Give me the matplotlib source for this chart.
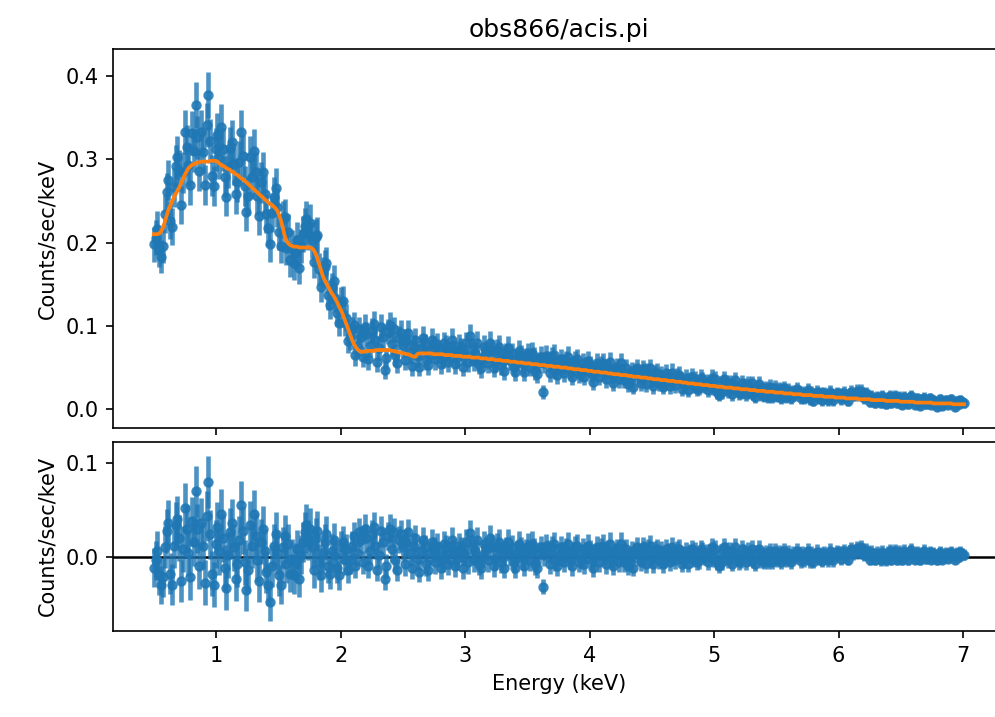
import numpy as np
import matplotlib.pyplot as plt

# ACIS channel grid: 14.6 eV per channel, channels 34-480 (~0.5-7 keV)
channels = np.arange(34, 481)
bin_width = 0.0146
exposure = 37700.0
energy = channels * bin_width

# fitted model (counts/sec/keV), one value per channel
model = [
    0.210, 0.210, 0.210, 0.211, 0.213, 0.218, 0.224,
    0.232, 0.239, 0.244, 0.249, 0.254, 0.258, 0.262, 0.266, 0.271, 0.276,
    0.281, 0.285, 0.289, 0.291, 0.293, 0.294, 0.295, 0.296, 0.296, 0.297,
    0.297, 0.297, 0.297, 0.297, 0.298, 0.298, 0.298, 0.298, 0.297, 0.295,
    0.293, 0.292, 0.291, 0.289, 0.288, 0.287, 0.285, 0.284, 0.282, 0.281,
    0.279, 0.277, 0.276, 0.274, 0.272, 0.270, 0.268, 0.266, 0.264, 0.262,
    0.260, 0.258, 0.256, 0.254, 0.252, 0.250, 0.248, 0.246, 0.245, 0.243,
    0.241, 0.238, 0.233, 0.226, 0.218, 0.208, 0.202, 0.199, 0.197, 0.196,
    0.195, 0.195, 0.195, 0.194, 0.194, 0.194, 0.194, 0.194, 0.194, 0.194,
    0.193, 0.191, 0.187, 0.181, 0.174, 0.167, 0.160, 0.155, 0.151, 0.147,
    0.143, 0.139, 0.136, 0.132, 0.128, 0.123, 0.119, 0.114, 0.108, 0.102,
    0.096, 0.090, 0.084, 0.079, 0.075, 0.072, 0.070, 0.069, 0.069, 0.069,
    0.070, 0.070, 0.070, 0.070, 0.070, 0.071, 0.071, 0.071, 0.071, 0.071,
    0.071, 0.071, 0.071, 0.071, 0.070, 0.070, 0.069, 0.069, 0.068, 0.068,
    0.067, 0.067, 0.066, 0.066, 0.065, 0.064, 0.063, 0.063, 0.066, 0.067,
    0.067, 0.067, 0.067, 0.067, 0.067, 0.067, 0.067, 0.066, 0.066, 0.066,
    0.066, 0.066, 0.066, 0.065, 0.065, 0.065, 0.065, 0.065, 0.064, 0.064,
    0.064, 0.064, 0.064, 0.063, 0.063, 0.063, 0.063, 0.063, 0.062, 0.062,
    0.062, 0.062, 0.062, 0.061, 0.061, 0.061, 0.061, 0.060, 0.060, 0.060,
    0.060, 0.059, 0.059, 0.059, 0.059, 0.058, 0.058, 0.058, 0.058, 0.057,
    0.057, 0.057, 0.057, 0.056, 0.056, 0.056, 0.056, 0.055, 0.055, 0.055,
    0.055, 0.054, 0.054, 0.054, 0.054, 0.053, 0.053, 0.053, 0.053, 0.052,
    0.052, 0.052, 0.052, 0.051, 0.051, 0.051, 0.051, 0.050, 0.050, 0.050,
    0.050, 0.049, 0.049, 0.049, 0.048, 0.048, 0.048, 0.048, 0.047, 0.047,
    0.047, 0.047, 0.046, 0.046, 0.046, 0.045, 0.045, 0.045, 0.045, 0.044,
    0.044, 0.044, 0.044, 0.043, 0.043, 0.043, 0.042, 0.042, 0.042, 0.042,
    0.041, 0.041, 0.041, 0.041, 0.040, 0.040, 0.040, 0.039, 0.039, 0.039,
    0.039, 0.038, 0.038, 0.038, 0.038, 0.037, 0.037, 0.037, 0.036, 0.036,
    0.036, 0.036, 0.035, 0.035, 0.035, 0.035, 0.034, 0.034, 0.034, 0.034,
    0.033, 0.033, 0.033, 0.033, 0.032, 0.032, 0.032, 0.031, 0.031, 0.031,
    0.031, 0.030, 0.030, 0.030, 0.030, 0.029, 0.029, 0.029, 0.029, 0.028,
    0.028, 0.028, 0.028, 0.027, 0.027, 0.027, 0.027, 0.026, 0.026, 0.026,
    0.026, 0.026, 0.025, 0.025, 0.025, 0.025, 0.024, 0.024, 0.024, 0.024,
    0.024, 0.023, 0.023, 0.023, 0.023, 0.022, 0.022, 0.022, 0.022, 0.022,
    0.021, 0.021, 0.021, 0.021, 0.021, 0.020, 0.020, 0.020, 0.020, 0.020,
    0.019, 0.019, 0.019, 0.019, 0.019, 0.018, 0.018, 0.018, 0.018, 0.018,
    0.017, 0.017, 0.017, 0.017, 0.017, 0.017, 0.016, 0.016, 0.016, 0.016,
    0.016, 0.016, 0.015, 0.015, 0.015, 0.015, 0.015, 0.015, 0.014, 0.014,
    0.014, 0.014, 0.014, 0.014, 0.013, 0.013, 0.013, 0.013, 0.013, 0.013,
    0.013, 0.012, 0.012, 0.012, 0.012, 0.012, 0.012, 0.012, 0.011, 0.011,
    0.011, 0.011, 0.011, 0.011, 0.011, 0.011, 0.010, 0.010, 0.010, 0.010,
    0.010, 0.010, 0.010, 0.010, 0.009, 0.009, 0.009, 0.009, 0.009, 0.009,
    0.009, 0.009, 0.008, 0.008, 0.008, 0.008, 0.008, 0.008, 0.008, 0.008,
    0.008, 0.008, 0.007, 0.007, 0.007, 0.007, 0.007, 0.007, 0.007, 0.007,
    0.007, 0.007, 0.007, 0.006, 0.006, 0.006, 0.006, 0.006, 0.006, 0.006,
]

# data minus model
resid = [
    -0.012, -0.004, 0.006, -0.020, -0.030, -0.022, 0.010,
    0.028, 0.036, -0.018, -0.030, 0.012, 0.034, 0.040, 0.020, -0.026, 0.008,
    0.052, 0.030, 0.004, -0.022, 0.038, 0.016, 0.070, 0.030, -0.010, 0.036,
    0.012, -0.028, 0.044, 0.080, 0.024, -0.018, -0.030, 0.014, 0.032, 0.006,
    0.046, 0.020, -0.012, -0.034, 0.002, 0.026, 0.036, 0.010, -0.024, -0.008,
    0.018, 0.055, 0.028, -0.006, -0.036, -0.014, 0.034, 0.012, 0.046, 0.022,
    -0.004, -0.026, 0.016, 0.030, 0.006, -0.016, -0.030, -0.048, -0.010, 0.012,
    0.024, 0.004, -0.020, -0.030, 0.010, 0.022, -0.008, 0.014, -0.018, -0.002,
    -0.020, -0.006, 0.008, -0.024, 0.002, 0.016, 0.026, 0.034, 0.018, 0.030,
    0.010, -0.014, 0.020, 0.028, -0.006, -0.020, 0.004, 0.016, 0.024, -0.010,
    -0.018, 0.006, 0.018, 0.002, -0.012, -0.020, 0.010, 0.016, -0.004, 0.008,
    -0.014, -0.004, 0.012, 0.022, -0.010, 0.004, 0.026, 0.018, -0.006, 0.030,
    0.020, -0.010, 0.006, 0.024, 0.032, 0.012, -0.014, 0.002, 0.028, 0.016,
    -0.024, -0.010, 0.022, 0.030, 0.008, 0.026, -0.004, -0.014, 0.018, 0.024,
    0.010, -0.008, 0.016, 0.026, 0.004, -0.012, 0.012, 0.020, -0.002, -0.016,
    0.006, 0.018, 0.010, -0.008, -0.014, 0.004, 0.016, 0.008, -0.006, 0.012,
    0.002, -0.012, -0.004, 0.014, 0.010, -0.008, 0.004, 0.018, 0.006, -0.010,
    -0.002, 0.012, 0.008, -0.012, 0.004, 0.016, -0.006, 0.025, 0.010, -0.004,
    0.006, 0.018, -0.008, -0.012, 0.002, 0.014, 0.008, -0.004, 0.020, 0.010,
    -0.010, -0.002, 0.012, 0.016, -0.006, 0.004, -0.012, 0.008, 0.016, 0.002,
    0.010, -0.006, -0.012, 0.004, 0.014, 0.008, -0.002, -0.010, 0.006, 0.012,
    -0.004, 0.014, 0.008, -0.008, -0.012, 0.004, 0.010, -0.032, 0.002, 0.012,
    0.006, -0.008, 0.010, 0.014, -0.004, -0.010, 0.002, 0.010, 0.004, -0.006,
    0.008, 0.014, -0.002, -0.010, 0.004, 0.010, 0.012, -0.006, -0.002, 0.008,
    -0.008, 0.004, 0.012, 0.006, -0.004, -0.012, 0.002, 0.010, -0.006, 0.008,
    0.012, 0.002, -0.008, 0.006, 0.014, -0.002, -0.010, 0.004, 0.008, -0.006,
    0.014, 0.004, -0.006, 0.008, -0.010, -0.002, 0.006, -0.012, 0.004, 0.010,
    0.002, -0.006, 0.010, 0.006, -0.008, 0.008, 0.012, 0.000, -0.008, 0.006,
    0.008, -0.004, 0.006, -0.008, -0.002, 0.008, 0.004, -0.006, 0.010, 0.002,
    -0.004, 0.006, 0.008, 0.002, -0.008, -0.002, 0.006, -0.008, 0.004, 0.008,
    -0.002, 0.006, -0.006, -0.004, 0.008, 0.006, 0.000, 0.004, -0.006, 0.004,
    0.010, -0.002, 0.008, -0.006, -0.010, 0.004, -0.006, 0.010, 0.006, -0.004,
    0.006, -0.008, 0.002, 0.010, 0.000, -0.006, -0.004, 0.008, 0.004, -0.006,
    0.006, -0.002, 0.008, -0.004, -0.008, 0.004, 0.008, -0.004, 0.002, -0.006,
    0.004, -0.006, 0.006, -0.006, 0.002, 0.006, -0.004, 0.004, -0.006, 0.003,
    0.006, -0.004, 0.004, 0.000, -0.006, 0.003, 0.000, 0.006, 0.002, -0.005,
    0.003, -0.004, 0.002, 0.006, -0.005, 0.003, -0.006, 0.002, 0.005, -0.002,
    0.003, -0.005, 0.004, 0.000, -0.004, 0.006, 0.002, -0.004, 0.003, 0.005,
    0.004, -0.002, 0.004, 0.006, 0.002, -0.003, 0.005, 0.008, 0.004, 0.005,
    0.009, 0.005, 0.010, 0.006, 0.002, 0.007, 0.003, -0.003, 0.005, 0.002,
    -0.003, 0.004, 0.001, -0.004, 0.005, 0.001, -0.004, 0.004, 0.006, -0.003,
    0.004, 0.006, -0.003, 0.005, 0.001, -0.004, 0.006, 0.002, -0.003, 0.005,
    0.007, 0.002, -0.003, 0.005, 0.001, -0.004, 0.004, 0.006, -0.002, 0.002,
    0.005, -0.003, 0.004, 0.001, -0.004, 0.002, 0.005, -0.003, 0.001, 0.004,
    -0.002, 0.003, 0.005, 0.001, -0.003, 0.004, 0.000, 0.005, 0.003, 0.002,
]

model = np.array(model)
resid = np.array(resid)
rate = model + resid

# gehrels errors from the counts in each channel
counts = np.clip(rate, 0, None) * exposure * bin_width
err = (1 + np.sqrt(counts + 0.75)) / (exposure * bin_width)

fig = plt.figure(figsize=(995 / 150, 717 / 150), dpi=150)
ax1 = fig.add_axes([0.1139, 0.4035, 0.8958, 0.5277])
ax2 = fig.add_axes([0.1139, 0.1199, 0.8958, 0.2641], sharex=ax1)

# data + model
ax1.errorbar(energy, rate, yerr=err, fmt='.', color='C0', ms=8,
             elinewidth=2.2, alpha=0.8, zorder=2)
ax1.plot(energy, model, color='C1', lw=1.8, zorder=3)
ax1.set_title('obs866/acis.pi', fontsize=12)
ax1.set_ylabel('Counts/sec/keV')
ax1.set_ylim(-0.0221, 0.4317)
ax1.set_yticks([0.0, 0.1, 0.2, 0.3, 0.4])
ax1.tick_params(labelbottom=False)

# residuals
ax2.axhline(0, color='k', lw=1.2, zorder=1)
ax2.errorbar(energy, resid, yerr=err, fmt='.', color='C0', ms=8,
             elinewidth=2.2, alpha=0.8, zorder=2)
ax2.set_ylabel('Counts/sec/keV')
ax2.set_xlabel('Energy (keV)')
ax2.set_ylim(-0.0796, 0.1232)
ax2.set_yticks([0.0, 0.1])
ax2.set_xlim(0.171, 7.334)
ax2.set_xticks([1, 2, 3, 4, 5, 6, 7])

fig.savefig('out.png', dpi=150)
